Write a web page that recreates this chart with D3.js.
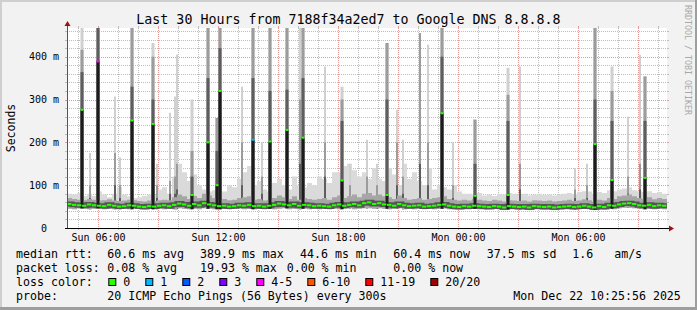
<!DOCTYPE html>
<html>
<head>
<meta charset="utf-8">
<style>
  body { margin: 0; background: #f2f2f2; }
  text { font-family: "DejaVu Sans Mono", monospace; }
</style>
</head>
<body>
<div id="container"></div>
<script src="https://cdn.jsdelivr.net/npm/d3@7"></script>
<script>

// ---- data ----
const startTime = new Date(2025, 11, 21, 4, 25, 56);
const endTime   = new Date(2025, 11, 22, 10, 25, 56);
const stepMinutes = 15;

// baseline samples every 15 minutes, values in ms
const medianRtt = [
  56, 54, 53, 52, 55, 53, 52, 51, 54, 52,
  50, 51, 53, 52, 50, 49, 51, 50, 52, 53,
  51, 54, 57, 55, 52, 56, 53, 58, 55, 53,
  51, 52, 50, 51, 53, 52, 54, 51, 52, 50,
  52, 54, 57, 55, 53, 56, 52, 54, 53, 51,
  52, 51, 50, 53, 55, 52, 54, 56, 53, 58,
  60, 56, 58, 55, 54, 52, 56, 53, 51, 52,
  53, 50, 51, 52, 54, 55, 52, 50, 49, 51,
  50, 52, 51, 50, 49, 51, 50, 48, 51, 50,
  49, 50, 48, 51, 50, 49, 50, 48, 49, 50,
  51, 49, 50, 52, 50, 48, 51, 49, 53, 52,
  55, 57, 58, 56, 53, 52, 54, 51, 53, 52
];
const smokeLow = [
  45, 44, 46, 45, 44, 45, 46, 44, 45, 44,
  44, 45, 44, 46, 45, 44, 45, 44, 45, 44,
  45, 44, 46, 45, 44, 45, 44, 46, 45, 44,
  44, 45, 44, 45, 46, 44, 45, 44, 45, 44,
  45, 44, 45, 46, 44, 45, 44, 45, 44, 45,
  44, 45, 44, 45, 44, 45, 46, 44, 45, 46,
  46, 45, 46, 45, 44, 45, 46, 44, 45, 44,
  45, 44, 45, 44, 45, 46, 44, 44, 43, 44,
  44, 45, 44, 43, 44, 45, 44, 43, 44, 44,
  43, 44, 43, 44, 44, 43, 44, 43, 44, 44,
  44, 43, 44, 45, 44, 43, 44, 43, 45, 44,
  46, 47, 47, 46, 45, 44, 45, 44, 45, 44
];
const smokeHigh = [
  70, 68, 66, 65, 68, 66, 64, 65, 67, 64,
  63, 64, 66, 65, 63, 62, 64, 63, 65, 66,
  65, 72, 78, 74, 68, 75, 70, 80, 76, 70,
  66, 68, 65, 66, 70, 72, 74, 66, 68, 64,
  66, 70, 76, 72, 68, 74, 66, 70, 68, 66,
  68, 70, 66, 72, 76, 70, 74, 78, 72, 80,
  82, 76, 78, 74, 72, 68, 76, 70, 66, 68,
  70, 66, 68, 70, 72, 74, 68, 66, 64, 66,
  64, 68, 66, 64, 63, 66, 64, 62, 65, 64,
  63, 64, 62, 65, 64, 63, 64, 62, 63, 64,
  66, 63, 64, 67, 65, 62, 66, 64, 70, 68,
  74, 76, 78, 74, 70, 68, 72, 67, 70, 68
];
const smokeMax = [
  80, 78, 82, 75, 80, 75, 85, 78, 72, 80,
  95, 78, 74, 70, 72, 75, 78, 76, 90, 95,
  80, 120, 150, 130, 110, 125, 100, 90, 85, 88,
  80, 85, 100, 95, 115, 130, 145, 100, 110, 90,
  85, 105, 115, 100, 90, 120, 100, 95, 105, 100,
  120, 115, 105, 130, 130, 145, 150, 135, 120, 130,
  115, 140, 115, 110, 140, 125, 100, 150, 115, 130,
  110, 100, 140, 90, 100, 95, 90, 100, 85, 80,
  80, 78, 82, 76, 78, 75, 80, 78, 82, 80,
  78, 80, 76, 78, 80, 77, 79, 76, 78, 80,
  82, 79, 84, 86, 85, 80, 84, 82, 88, 86,
  90, 92, 95, 88, 86, 84, 86, 82, 84, 80
];

// short spikes (ms); spikeMedian null = no median jump
const spikeTimes = [
  "Sun 05:10", "Sun 05:35", "Sun 06:00", "Sun 06:50", "Sun 07:05", "Sun 07:40",
  "Sun 08:45", "Sun 08:55", "Sun 09:35", "Sun 09:50", "Sun 09:55", "Sun 10:40",
  "Sun 11:30", "Sun 11:55", "Sun 12:05", "Sun 13:10", "Sun 13:45", "Sun 14:10",
  "Sun 14:35", "Sun 15:25", "Sun 16:05", "Sun 16:15", "Sun 17:20", "Sun 18:10",
  "Sun 18:35", "Sun 19:25", "Sun 19:55", "Sun 20:25", "Sun 20:55", "Sun 21:15",
  "Sun 22:05", "Sun 22:30", "Sun 23:10", "Sun 23:45", "Mon 00:50", "Mon 02:30",
  "Mon 03:05", "Mon 05:50", "Mon 06:25", "Mon 06:50", "Mon 07:40", "Mon 08:30",
  "Mon 09:05", "Mon 09:20"
];
const spikeMedian = [
  276, null, 389, null, null, 251,
  243, null, null, null, null, 77,
  200, 100, 320, null, 206, null,
  202, 229, null, 211, null, 111,
  null, null, null, 77, null, null,
  null, null, 268, null, 75, 77,
  null, null, null, 196, 112, null,
  null, 117
];
const spikeDark = [
  364, 70, 520, 100, 70, 330,
  300, 70, 80, 80, 90, 120,
  350, 180, 420, 100, 350, 80,
  320, 323, 150, 350, 120, 250,
  70, 80, 70, 300, 100, 80,
  150, 100, 400, 70, 150, 250,
  90, 70, 70, 300, 250, 80,
  90, 250
];
const spikeMid = [
  416, 100, 520, 175, 100, 520,
  400, 100, 110, 120, 150, 180,
  520, 257, 520, 200, 520, 120,
  520, 520, 300, 520, 200, 300,
  100, 120, 100, 432, 200, 120,
  455, 200, 520, 100, 253, 311,
  150, 90, 100, 520, 320, 120,
  150, 354
];
const spikeMax = [
  520, 175, 520, 307, 165, 520,
  432, 150, 269, 307, 405, 300,
  520, 257, 520, 330, 520, 200,
  520, 520, 520, 520, 377, 330,
  150, 206, 150, 432, 276, 206,
  455, 428, 520, 200, 253, 374,
  377, 140, 150, 520, 377, 260,
  404, 354
];
const spikeLoss = [
  0, 0, 4, 0, 0, 0,
  0, 0, 0, 0, 0, 0,
  0, 0, 0, 0, 1, 0,
  0, 0, 0, 0, 0, 0,
  0, 0, 0, 0, 0, 0,
  0, 0, 0, 0, 0, 0,
  0, 0, 0, 0, 0, 0,
  0, 0
];

const yTicks = [0, 100, 200, 300, 400];
const lossLabels = ["0", "1", "2", "3", "4-5", "6-10", "11-19", "20/20"];
const lossColors = ["#26ff00", "#00b8ff", "#0059ff", "#7e00ff", "#ff00ff", "#ff5500", "#ff0000", "#a10000"];

const titleText = "Last 30 Hours from 7188f34a2ed7 to Google DNS 8.8.8.8";
const rttLegend  = ["median rtt:", "60.6 ms avg", "389.9 ms max", "44.6 ms min", "60.4 ms now", "37.5 ms sd", "1.6   am/s"];
const lossLegend = ["packet loss:", "0.08 % avg", "19.93 % max", "0.00 % min", "0.00 % now"];
const probeLegend = ["probe:", "20 ICMP Echo Pings (56 Bytes) every 300s", "Mon Dec 22 10:25:56 2025"];

// ---- layout ----
const width = 697, height = 310;
const pLeft = 67, pRight = 667, pTop = 28, pBottom = 228;

const parseSpike = s => {
  const day = s.startsWith("Mon") ? 22 : 21;
  const [hh, mm] = s.slice(4).split(":").map(Number);
  return new Date(2025, 11, day, hh, mm);
};

const x = d3.scaleTime().domain([startTime, endTime]).range([pLeft, pRight]);
const y = d3.scaleLinear().domain([0, 467]).range([pBottom, pTop]);

const samples = medianRtt.map((m, i) => ({
  t: new Date(+startTime + i * stepMinutes * 60000),
  med: m, lo: smokeLow[i], hi: smokeHigh[i], max: smokeMax[i]
}));
const stepData = samples.concat([Object.assign({}, samples[samples.length - 1], { t: endTime })]);

const spikes = spikeTimes.map((s, i) => ({
  t: parseSpike(s), med: spikeMedian[i], dark: spikeDark[i],
  mid: spikeMid[i], max: spikeMax[i], loss: spikeLoss[i]
}));

const svg = d3.create("svg")
    .attr("width", width)
    .attr("height", height)
    .style("display", "block");

// background and 3D frame
svg.append("rect").attr("width", width).attr("height", height).attr("fill", "#f2f2f2");
svg.append("rect").attr("x", 0).attr("y", 0).attr("width", width).attr("height", 2).attr("fill", "#cfcfcf");
svg.append("rect").attr("x", 0).attr("y", 0).attr("width", 2).attr("height", height).attr("fill", "#cfcfcf");
svg.append("rect").attr("x", 0).attr("y", height - 3).attr("width", width).attr("height", 3).attr("fill", "#9e9e9e");
svg.append("rect").attr("x", width - 2).attr("y", 0).attr("width", 2).attr("height", height).attr("fill", "#9e9e9e");

// canvas
svg.append("rect").attr("x", pLeft).attr("y", pTop).attr("width", pRight - pLeft).attr("height", pBottom - pTop).attr("fill", "#fff");

svg.append("clipPath").attr("id", "plotclip")
  .append("rect").attr("x", pLeft).attr("y", pTop).attr("width", pRight - pLeft).attr("height", pBottom - pTop);

// grid
const grid = svg.append("g").attr("shape-rendering", "crispEdges");
const minorCol = "#bdbdbd", majorCol = "#e59a9a";

const hSteps = d3.range(20, 467, 20);
hSteps.forEach(v => {
  const major = v % 100 === 0;
  const yy = Math.round(y(v)) + 0.5;
  const c = major ? majorCol : minorCol;
  grid.append("line").attr("x1", pLeft).attr("x2", pRight).attr("y1", yy).attr("y2", yy)
    .attr("stroke", c).attr("stroke-dasharray", "1,1");
  grid.append("line").attr("x1", pLeft - 2).attr("x2", pLeft).attr("y1", yy).attr("y2", yy).attr("stroke", c);
  grid.append("line").attr("x1", pRight).attr("x2", pRight + 2).attr("y1", yy).attr("y2", yy).attr("stroke", c);
});

const hours = x.ticks(d3.timeHour.every(1));
hours.forEach(h => {
  const major = h.getHours() % 3 === 0;
  const xx = Math.round(x(h)) + 0.5;
  const c = major ? majorCol : minorCol;
  grid.append("line").attr("x1", xx).attr("x2", xx).attr("y1", pTop).attr("y2", pBottom)
    .attr("stroke", c).attr("stroke-dasharray", "1,1");
  grid.append("line").attr("x1", xx).attr("x2", xx).attr("y1", pBottom).attr("y2", pBottom + 2).attr("stroke", c);
  grid.append("line").attr("x1", xx).attr("x2", xx).attr("y1", pTop - 2).attr("y2", pTop).attr("stroke", c);
});

// smoke
const plot = svg.append("g").attr("clip-path", "url(#plotclip)");

plot.append("path").datum(stepData)
  .attr("fill", "#dadada")
  .attr("d", d3.area().curve(d3.curveStepAfter).x(d => x(d.t)).y0(d => y(d.lo)).y1(d => y(d.max)));

const spikeW = d => d.med == null ? 2 : 3;
const spikeX = d => Math.round(x(d.t)) - (d.med == null ? 1 : 1.5);
const baseAt = d => samples[Math.min(samples.length - 1, Math.floor((d.t - startTime) / (stepMinutes * 60000)))];

[["max", "#d0d0d0"], ["mid", "#9c9c9c"], ["dark", "#5e5e5e"]].forEach(([k, col]) => {
  plot.selectAll(null).data(spikes).enter().append("rect")
    .attr("x", spikeX)
    .attr("width", spikeW)
    .attr("y", d => y(d[k]))
    .attr("height", d => y(baseAt(d).lo) - y(d[k]))
    .attr("fill", col);
});

plot.append("path").datum(stepData)
  .attr("fill", "#a6a6a6")
  .attr("d", d3.area().curve(d3.curveStepAfter).x(d => x(d.t)).y0(d => y(d.lo)).y1(d => y(d.hi)));

plot.append("path").datum(stepData)
  .attr("fill", "none")
  .attr("stroke", "#3a3a3a")
  .attr("stroke-width", 5)
  .attr("stroke-opacity", 0.75)
  .attr("d", d3.line().curve(d3.curveStepAfter).x(d => x(d.t)).y(d => y(d.med)));

// black bars up to the median of the spikes
const withMed = spikes.filter(d => d.med != null);
plot.selectAll(null).data(withMed).enter().append("rect")
  .attr("x", spikeX)
  .attr("width", 3)
  .attr("y", d => y(d.med))
  .attr("height", d => y(baseAt(d).lo) - y(d.med))
  .attr("fill", "#1c1c1c");

// median dashes coloured by loss
plot.selectAll(null).data(samples).enter().append("rect")
  .attr("x", d => x(d.t))
  .attr("width", d => x(new Date(+d.t + stepMinutes * 60000)) - x(d.t) - 0.6)
  .attr("y", d => y(d.med) - 1)
  .attr("height", 2)
  .attr("fill", lossColors[0]);

plot.selectAll(null).data(withMed).enter().append("rect")
  .attr("x", spikeX)
  .attr("width", 3)
  .attr("y", d => y(d.med) - 1)
  .attr("height", 2)
  .attr("fill", d => lossColors[d.loss]);

// axes
svg.append("line").attr("x1", pLeft + 0.5).attr("x2", pLeft + 0.5).attr("y1", pBottom).attr("y2", pTop - 4)
  .attr("stroke", "#555").attr("shape-rendering", "crispEdges");
svg.append("line").attr("x1", pLeft - 2).attr("x2", pRight + 4).attr("y1", pBottom + 0.5).attr("y2", pBottom + 0.5)
  .attr("stroke", "#000").attr("shape-rendering", "crispEdges");
svg.append("path").attr("d", `M${pLeft + 0.5},${pTop - 7} L${pLeft - 2.5},${pTop - 2} L${pLeft + 3.5},${pTop - 2} Z`).attr("fill", "#a01010");
svg.append("path").attr("d", `M${pRight + 7},${pBottom + 0.5} L${pRight + 2},${pBottom - 2.5} L${pRight + 2},${pBottom + 3.5} Z`).attr("fill", "#a01010");

// y tick labels
svg.selectAll(null).data(yTicks).enter().append("text")
  .attr("x", d => d === 0 ? 47 : 59)
  .attr("y", d => y(d) + 3.7)
  .attr("text-anchor", "end")
  .attr("font-size", 10)
  .attr("fill", "#000")
  .text(d => d === 0 ? "0" : d + " m");

// x tick labels
const labelHours = hours.filter(h => h.getHours() % 6 === 0);
const fmt = d3.timeFormat("%a %H:%M");
svg.selectAll(null).data(labelHours).enter().append("text")
  .attr("x", d => Math.round(x(d)) + 0.5)
  .attr("y", 241)
  .attr("text-anchor", "middle")
  .attr("font-size", 10)
  .attr("fill", "#000")
  .text(fmt);

// title and axis label
svg.append("text").attr("x", 348.5).attr("y", 23.5).attr("text-anchor", "middle")
  .attr("font-size", 13.3).attr("fill", "#000").text(titleText);

svg.append("text").attr("transform", "translate(15,128) rotate(-90)").attr("text-anchor", "middle")
  .attr("font-size", 11.5).attr("fill", "#000").text("Seconds");

svg.append("text").attr("transform", "translate(685,5) rotate(90)")
  .attr("font-size", 8.3).attr("fill", "#a8a8a8").text("RRDTOOL / TOBI OETIKER");

// legend
const legendFont = 11.6;
const addLine = (parts, xs, yy) => {
  parts.forEach((p, i) => {
    svg.append("text").attr("x", xs[i]).attr("y", yy)
      .attr("font-size", legendFont).attr("fill", "#000")
      .style("white-space", "pre").text(p);
  });
};
addLine(rttLegend, [16, 107.3, 200, 300, 393.3, 486.7, 572.3], 258);
addLine(lossLegend, [16, 107.3, 200, 286.7, 393.3], 272);
addLine(["loss color:"], [16], 286);
let bx = 108.3;
lossLabels.forEach((lab, i) => {
  svg.append("rect").attr("x", bx + 0.5).attr("y", 278.5).attr("width", 7).attr("height", 7)
    .attr("fill", lossColors[i]).attr("stroke", "#000").attr("stroke-width", 1);
  svg.append("text").attr("x", bx + 15).attr("y", 286)
    .attr("font-size", legendFont).attr("fill", "#000").text(lab);
  bx += 30 + 7 * lab.length;
});
addLine(probeLegend, [16, 107.3, 513.3], 300);

document.getElementById("container").append(svg.node());
</script>
</body>
</html>
